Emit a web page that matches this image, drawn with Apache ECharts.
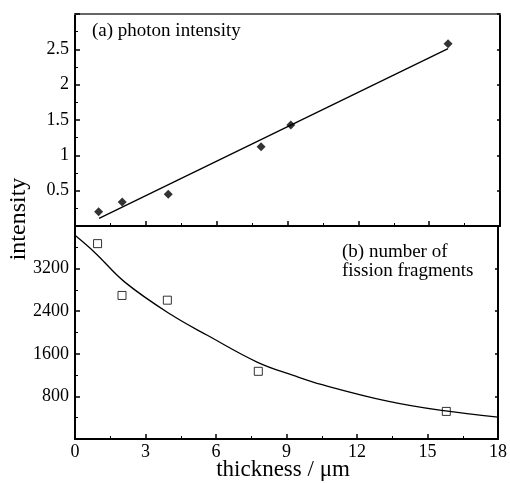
<!DOCTYPE html>
<html>
<head>
<meta charset="utf-8">
<script src="https://cdn.jsdelivr.net/npm/echarts@6/dist/echarts.min.js"></script>
<style>html,body{margin:0;padding:0;background:#fff;}#c{width:510px;height:483px;}</style>
</head>
<body>
<div id="c"></div>
<script>
// Panel (a): photon intensity
var photonX = [1.0, 2.0, 3.95, 7.88, 9.14, 15.8];
var photonY = [0.20, 0.34, 0.45, 1.12, 1.43, 2.58];
var photonFitX = [1.02, 15.8];
var photonFitY = [0.108, 2.51];
// Panel (b): number of fission fragments
var fissionX = [0.96, 2.0, 3.93, 7.8, 15.8];
var fissionY = [3669, 2696, 2607, 1271, 518];
var fissionFitX = [0, 0.85, 2.12, 4.1, 5.65, 7.77, 9.32, 10.52, 13.35, 15.6, 18];
var fissionFitY = [3825, 3499, 2946, 2332, 1943, 1440, 1190, 1020, 706, 536, 412];
// Axis ticks
var xTicks = [0, 3, 6, 9, 12, 15, 18];
var topYTicks = [0.5, 1, 1.5, 2, 2.5];
var botYTicks = [800, 1600, 2400, 3200];

function pairs(xs, ys){ return xs.map(function(x,i){return [x, ys[i]];}); }

var FONT = '"Liberation Serif", "DejaVu Serif", serif';
var axisLine = {show:true, onZero:false, lineStyle:{color:'#000', width:2}};
var chart = echarts.init(document.getElementById('c'), null, {renderer:'canvas'});
function xAx(gi, labels, pos){
  return {type:'value', gridIndex:gi, min:xTicks[0], max:xTicks[xTicks.length-1], interval:xTicks[1]-xTicks[0],
    position: pos||'bottom', axisLine:axisLine,
    axisTick:{show:true, inside:true, length:5, lineStyle:{color:'#000', width:1.5}},
    minorTick:{show:true, splitNumber:2, length:3, lineStyle:{color:'#000'}},
    splitLine:{show:false},
    axisLabel:{show:labels, color:'#000', fontFamily:FONT, fontSize:18, margin:4,
      formatter:function(v){return String(v);}}};
}
function yAx(gi, ticks, max, labels, pos){
  var step = ticks[1]-ticks[0];
  return {type:'value', gridIndex:gi, min:0, max:max, interval:step, position:pos||'left',
    axisLine:axisLine,
    axisTick:{show:true, inside:true, length:labels?5:3, lineStyle:{color:'#000', width:1.5}},
    minorTick:{show:labels, splitNumber:2, length:3, lineStyle:{color:'#000'}},
    splitLine:{show:false},
    axisLabel:{show:labels, showMinLabel:false, showMaxLabel:false, color:'#000', fontFamily:FONT, fontSize:18, margin:6,
      formatter:function(v){return String(v);}}};
}
chart.setOption({
  backgroundColor:'#fff',
  animation:false,
  grid:[
    {left:75, right:10, top:14, height:212},
    {left:75, right:10, top:226, height:213}
  ],
  xAxis:[xAx(0,false), xAx(1,true),
    {type:'value', gridIndex:0, min:0, max:18, position:'top', axisLine:{show:true, onZero:false, lineStyle:{color:'#666', width:2}}, axisTick:{show:false}, axisLabel:{show:false}, splitLine:{show:false}}],
  yAxis:[yAx(0, topYTicks, 3, true), yAx(1, botYTicks, 4000, true),
    yAx(0, topYTicks, 3, false, 'right'), yAx(1, botYTicks, 4000, false, 'right')],
  series:[
    {type:'line', xAxisIndex:0, yAxisIndex:0, data:pairs(photonFitX, photonFitY), symbol:'none', lineStyle:{color:'#000', width:1.3}},
    {type:'scatter', xAxisIndex:0, yAxisIndex:0, data:pairs(photonX, photonY), symbol:'diamond', symbolSize:9, itemStyle:{color:'#000'}},
    {type:'line', xAxisIndex:1, yAxisIndex:1, data:pairs(fissionFitX, fissionFitY), symbol:'none', smooth:0.4, lineStyle:{color:'#000', width:1.3}},
    {type:'scatter', xAxisIndex:1, yAxisIndex:1, data:pairs(fissionX, fissionY), symbol:'rect', symbolSize:8, itemStyle:{color:'#fff', borderColor:'#000', borderWidth:1}, z:1}
  ],
  graphic:[
    {type:'text', left:92, top:22, style:{text:'(a) photon intensity', font:'19px '+FONT, fill:'#000'}},
    {type:'text', left:342, top:243, style:{text:'(b) number of\nfission fragments', font:'19px '+FONT, fill:'#000', lineHeight:19}},
    {type:'text', x:19, y:219, rotation:Math.PI/2, style:{text:'intensity', font:'24px '+FONT, fill:'#000', align:'center', verticalAlign:'middle'}},
    {type:'text', x:283, y:470, style:{text:'thickness / \u03bcm', font:'23px '+FONT, fill:'#000', align:'center', verticalAlign:'middle'}}
  ]
});
</script>
</body>
</html>
